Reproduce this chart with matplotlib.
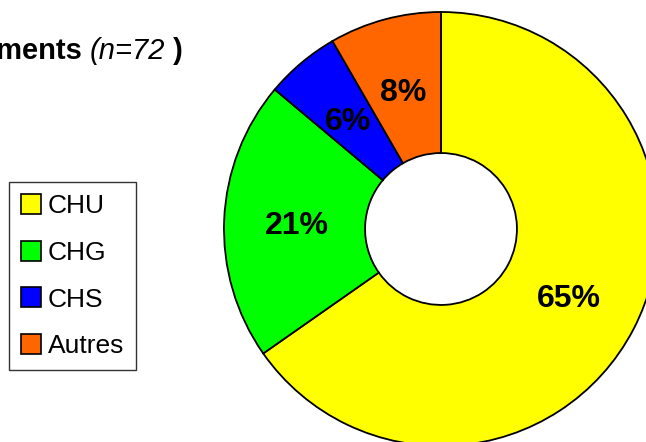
import matplotlib
matplotlib.use("Agg")
import matplotlib.pyplot as plt
import numpy as np

categories = ["CHU", "CHG", "CHS", "Autres"]
counts = [47, 15, 4, 6]
pct_labels = ["65%", "21%", "6%", "8%"]
colors = ["#FFFF00", "#00FF00", "#0000FF", "#FF6600"]
title_bold = "Répartition des établissements "
title_italic = "(n=72"
title_end = " )"

plt.rcParams['font.family'] = ['Liberation Sans', 'DejaVu Sans']

W, H = 646, 442
fig = plt.figure(figsize=(W / 100, H / 100), dpi=100)

cx, cy, R = 441, 229, 217
ax = fig.add_axes([(cx - R) / W, (H - cy - R) / H, 2 * R / W, 2 * R / H])
wedges, _ = ax.pie(counts, colors=colors, startangle=90, counterclock=False,
                   radius=1.0, wedgeprops=dict(width=0.65, edgecolor="black", linewidth=1.3))
ax.set_xlim(-1, 1)
ax.set_ylim(-1, 1)
ax.set_aspect("equal")
ax.axis("off")

total = sum(counts)
ang = 90.0
for c, lab in zip(counts, pct_labels):
    span = 360.0 * c / total
    mid = np.deg2rad(ang - span / 2)
    ang -= span
    r = 0.665
    ax.text(r * np.cos(mid), r * np.sin(mid), lab, ha="center", va="center_baseline",
            fontsize=23, fontweight="bold", color="black")

# Title built from right to left
fig.canvas.draw()
renderer = fig.canvas.get_renderer()
x_right = 183
y_base = (H - 59) / H
t3 = fig.text(x_right / W, y_base, title_end, ha="right", va="baseline",
              fontsize=21, fontweight="bold")
bb = t3.get_window_extent(renderer)
t2 = fig.text(bb.x0 / W, y_base, title_italic, ha="right", va="baseline",
              fontsize=21, fontstyle="italic")
bb = t2.get_window_extent(renderer)
t1 = fig.text(bb.x0 / W, y_base, title_bold, ha="right", va="baseline",
              fontsize=21, fontweight="bold")

handles = [matplotlib.patches.Patch(facecolor=c, edgecolor="black", linewidth=1.2) for c in colors]
leg = fig.legend(handles, categories, loc="upper left",
                 bbox_to_anchor=(9 / W, 1 - 182 / H), borderaxespad=0,
                 fontsize=19, frameon=True, fancybox=False, shadow=False,
                 handlelength=0.78, handleheight=0.78, handletextpad=0.24,
                 labelspacing=0.86, borderpad=0.45)
leg.get_frame().set_edgecolor("black")
leg.get_frame().set_linewidth(1.0)

fig.savefig("out.png", dpi=100)
